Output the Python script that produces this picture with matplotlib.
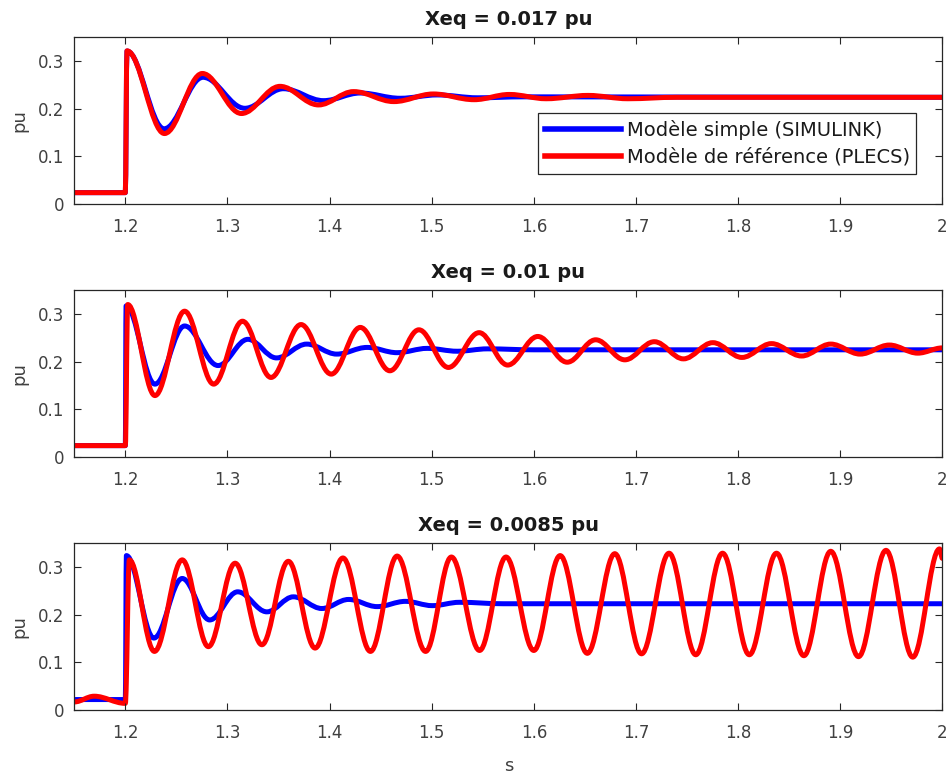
import matplotlib
matplotlib.use("Agg")
import matplotlib.pyplot as plt
from matplotlib.path import Path
from matplotlib.patches import PathPatch
from matplotlib.lines import Line2D
from matplotlib.ticker import FormatStrFormatter

plt.rcParams["font.family"] = ["DejaVu Sans"]

titles = ["Xeq = 0.017 pu", "Xeq = 0.01 pu", "Xeq = 0.0085 pu"]
labels = ["Modèle simple (SIMULINK)", "Modèle de référence (PLECS)"]
x_ticks = [1.2, 1.3, 1.4, 1.5, 1.6, 1.7, 1.8, 1.9, 2.0]
y_ticks = [0, 0.1, 0.2, 0.3]

# extrema (time in s, value in pu)
# Xeq = 0.017 pu
t_blue_1 = [1.15, 1.2, 1.2016, 1.238, 1.276, 1.317, 1.3547, 1.394, 1.430, 1.469, 1.5055, 1.545, 1.59, 2.0]
v_blue_1 = [0.024, 0.024, 0.321, 0.158, 0.266, 0.201, 0.242, 0.217, 0.233, 0.222, 0.229, 0.223, 0.225, 0.224]
t_red_1 = [1.15, 1.2, 1.2016, 1.2383, 1.2754, 1.3137, 1.3514, 1.3891, 1.4235, 1.4629, 1.5015, 1.5415,
           1.576, 1.612, 1.653, 1.692, 1.74, 2.0]
v_red_1 = [0.024, 0.024, 0.3215, 0.148, 0.274, 0.19, 0.247, 0.208, 0.236, 0.215, 0.231, 0.219,
           0.23, 0.221, 0.228, 0.221, 0.224, 0.224]

# Xeq = 0.01 pu
t_blue_2 = [1.15, 1.2, 1.2007, 1.229, 1.258, 1.2908, 1.320, 1.348, 1.3776, 1.407, 1.4367, 1.466,
            1.4956, 1.525, 1.5546, 1.60, 2.0]
v_blue_2 = [0.024, 0.024, 0.317, 0.153, 0.275, 0.192, 0.247, 0.208, 0.237, 0.216, 0.230, 0.219,
            0.228, 0.222, 0.227, 0.225, 0.225]
t_red_2 = [1.15, 1.2, 1.2023, 1.229, 1.258, 1.2865, 1.3147, 1.3426, 1.372, 1.4016, 1.430, 1.459,
           1.4874, 1.5163, 1.5464, 1.5743, 1.6038, 1.6326, 1.6605, 1.689, 1.7179, 1.7464, 1.7752,
           1.8037, 1.8326, 1.8621, 1.8906, 1.9194, 1.948, 1.9758, 2.0]
v_red_2 = [0.024, 0.024, 0.32, 0.129, 0.306, 0.153, 0.285, 0.167, 0.278, 0.174, 0.272, 0.181,
           0.267, 0.188, 0.261, 0.193, 0.253, 0.199, 0.246, 0.204, 0.242, 0.206, 0.240,
           0.209, 0.238, 0.212, 0.237, 0.216, 0.235, 0.218, 0.229]

# Xeq = 0.0085 pu
t_blue_3 = [1.15, 1.2, 1.201, 1.228, 1.2557, 1.2826, 1.310, 1.3386, 1.3645, 1.3924, 1.4186, 1.4465,
            1.4743, 1.5006, 1.5271, 1.57, 2.0]
v_blue_3 = [0.022, 0.022, 0.324, 0.151, 0.276, 0.189, 0.248, 0.206, 0.2375, 0.213, 0.232, 0.217,
            0.228, 0.219, 0.226, 0.223, 0.223]
t_red_3 = [1.15, 1.1695, 1.2, 1.2039, 1.2285, 1.2557, 1.2813, 1.3075, 1.3337, 1.3596, 1.3858, 1.413,
           1.440, 1.4661, 1.494, 1.5192, 1.5468, 1.5727, 1.5999, 1.6257, 1.6523, 1.6792, 1.7054,
           1.7323, 1.7585, 1.7847, 1.8109, 1.8375, 1.8643, 1.8906, 1.9178, 1.9447, 1.9709, 1.9971, 2.0]
v_red_3 = [0.017, 0.029, 0.014, 0.315, 0.123, 0.315, 0.133, 0.308, 0.137, 0.312, 0.130, 0.319,
           0.123, 0.323, 0.123, 0.321, 0.125, 0.321, 0.125, 0.324, 0.119, 0.328, 0.118,
           0.329, 0.116, 0.329, 0.116, 0.329, 0.114, 0.333, 0.112, 0.335, 0.111, 0.338, 0.318]

series = [
    (t_blue_1, v_blue_1, t_red_1, v_red_1),
    (t_blue_2, v_blue_2, t_red_2, v_red_2),
    (t_blue_3, v_blue_3, t_red_3, v_red_3),
]


def smooth_path(t, v):
    # cubic segments with flat tangents at each extremum
    k = 0.364
    verts = [(t[0], v[0])]
    codes = [Path.MOVETO]
    for i in range(1, len(t)):
        dt = t[i] - t[i - 1]
        verts += [(t[i - 1] + k * dt, v[i - 1]), (t[i] - k * dt, v[i]), (t[i], v[i])]
        codes += [Path.CURVE4] * 3
    return Path(verts, codes)


fig = plt.figure(figsize=(9.52, 7.76), dpi=100)
bottoms = [0.737, 0.411, 0.085]
lw = 3.6
grey = "0.15"

for i, (tb, vb, tr, vr) in enumerate(series):
    ax = fig.add_axes([0.078, bottoms[i], 0.912, 0.215])
    ax.add_patch(PathPatch(smooth_path(tb, vb), facecolor="none", edgecolor="blue",
                           lw=lw, capstyle="round", joinstyle="round"))
    ax.add_patch(PathPatch(smooth_path(tr, vr), facecolor="none", edgecolor="red",
                           lw=lw, capstyle="round", joinstyle="round"))
    ax.set_xlim(1.15, 2.0)
    ax.set_ylim(0, 0.35)
    ax.set_xticks(x_ticks)
    ax.set_yticks(y_ticks)
    ax.xaxis.set_major_formatter(FormatStrFormatter("%g"))
    ax.yaxis.set_major_formatter(FormatStrFormatter("%g"))
    ax.tick_params(direction="in", top=True, right=True, length=5, width=0.8,
                   labelsize=12, colors=grey, labelcolor="0.25")
    ax.tick_params(axis="x", pad=10)
    ax.tick_params(axis="y", pad=7)
    for sp in ax.spines.values():
        sp.set_color(grey)
        sp.set_linewidth(0.9)
    ax.set_title(titles[i], fontsize=14, fontweight="bold", color="0.1", pad=9)
    ax.set_ylabel("pu", fontsize=13, color="0.25", labelpad=7)
    if i == 2:
        ax.set_xlabel("s", fontsize=13, color="0.25", labelpad=11)
    if i == 0:
        handles = [Line2D([], [], color="blue", lw=4), Line2D([], [], color="red", lw=4)]
        leg = ax.legend(handles, labels, loc="upper right", bbox_to_anchor=(0.97, 0.545),
                        borderaxespad=0, fontsize=14, handlelength=3.9, handletextpad=0.3,
                        labelspacing=0.4, borderpad=0.35, fancybox=False, framealpha=1)
        leg.get_frame().set_edgecolor(grey)
        leg.get_frame().set_linewidth(0.9)
        for txt in leg.get_texts():
            txt.set_color("0.1")

fig.savefig("out.png", dpi=100)
